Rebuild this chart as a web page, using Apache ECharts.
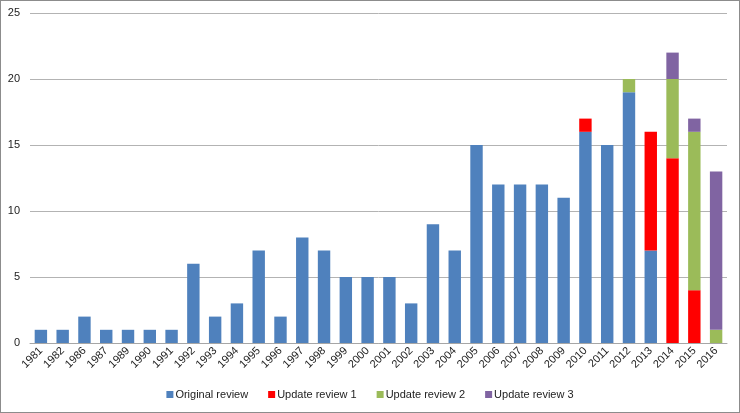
<!DOCTYPE html>
<html>
<head>
<meta charset="utf-8">
<title>Reviews by year</title>
<script src="https://cdn.jsdelivr.net/npm/echarts@6/dist/echarts.min.js"></script>
<style>
  html, body { margin: 0; padding: 0; background: #fff; }
  #main { width: 738px; height: 411px; border: 1px solid #8c8c8c; }
</style>
</head>
<body>
<div id="main"></div>
<script>
// data
var years = ['1981','1982','1986','1987','1989','1990','1991','1992','1993','1994','1995','1996','1997','1998','1999','2000',
             '2001','2002','2003','2004','2005','2006','2007','2008','2009','2010','2011','2012','2013','2014','2015','2016'];
var original = [1,1,2,1,1,1,1,6,2,3,7,2,8,7,5,5,5,3,9,7,15,12,12,12,11,16,15,19,7,0,0,0];
var update1  = [0,0,0,0,0,0,0,0,0,0,0,0,0,0,0,0,0,0,0,0,0,0,0,0,0,1,0,0,9,14,4,0];
var update2  = [0,0,0,0,0,0,0,0,0,0,0,0,0,0,0,0,0,0,0,0,0,0,0,0,0,0,0,1,0,6,12,1];
var update3  = [0,0,0,0,0,0,0,0,0,0,0,0,0,0,0,0,0,0,0,0,0,0,0,0,0,0,0,0,0,2,1,12];

var myChart = echarts.init(document.getElementById('main'));

function bar(name, data, color) {
  return {
    name: name,
    type: 'bar',
    stack: 'all',
    barWidth: '57%',
    data: data,
    itemStyle: { color: color },
    animation: false
  };
}

var font = 'Liberation Sans, Arial, sans-serif';

var option = {
  textStyle: { fontFamily: font },
  grid: { left: 29, right: 12, top: 12, bottom: 69, containLabel: false },
  legend: {
    bottom: 7,
    left: 'center',
    itemWidth: 7,
    itemHeight: 7,
    itemGap: 20,
    icon: 'rect',
    textStyle: { fontSize: 11, color: '#222', fontFamily: font, padding: [0, 0, 0, -3] },
    data: ['Original review', 'Update review 1', 'Update review 2', 'Update review 3']
  },
  xAxis: {
    type: 'category',
    data: years,
    axisLine: { lineStyle: { color: '#a6a6a6' } },
    axisTick: { show: false },
    axisLabel: { rotate: 45, fontSize: 11, color: '#222', interval: 0, margin: 6 }
  },
  yAxis: {
    type: 'value',
    min: 0,
    max: 25,
    interval: 5,
    axisLine: { show: false },
    axisTick: { show: false },
    axisLabel: { fontSize: 11, color: '#222', margin: 10 },
    splitLine: { lineStyle: { color: '#b3b3b3' } }
  },
  series: [
    bar('Original review', original, '#4f81bd'),
    bar('Update review 1', update1, '#ff0000'),
    bar('Update review 2', update2, '#9bbb59'),
    bar('Update review 3', update3, '#8064a2')
  ]
};

myChart.setOption(option);
</script>
</body>
</html>
